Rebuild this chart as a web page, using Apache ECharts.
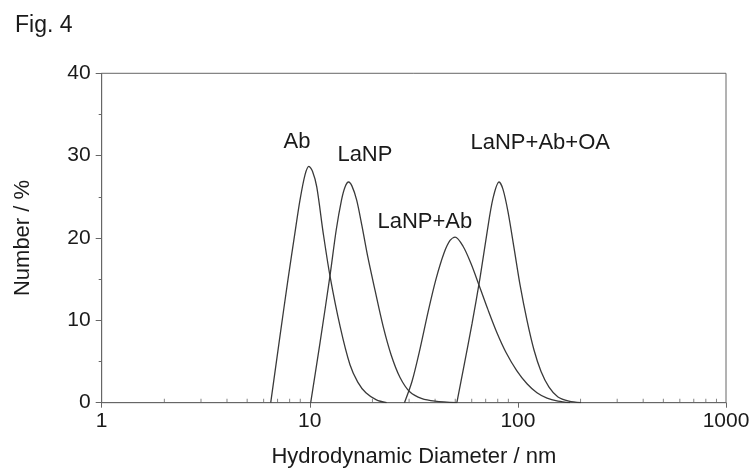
<!DOCTYPE html>
<html>
<head>
<meta charset="utf-8">
<script src="https://cdn.jsdelivr.net/npm/echarts@6/dist/echarts.min.js"></script>
<style>
  html, body { margin: 0; padding: 0; background: #ffffff; }
  #chart { width: 753px; height: 475px; }
</style>
</head>
<body>
<div id="chart"></div>
<script>
// Size distributions (hydrodynamic diameter in nm, number %)
const abSize = [6.49, 7.18, 7.86, 8.48, 8.97, 9.49, 9.9, 10.3, 10.8, 11.6, 12.5, 14.0, 15.6, 17.0, 18.6, 20.9, 23.4];
const abNumber = [0, 8.0, 15.0, 20.6, 24.6, 27.7, 28.7, 28.1, 26.2, 20.6, 15.4, 9.2, 4.6, 2.5, 1.2, 0.35, 0];

const lanpSize = [10.1, 11.2, 12.5, 13.4, 14.2, 14.77, 15.35, 15.95, 16.8, 17.8, 19.0, 20.6, 22.5, 24.6, 27.1, 30.3, 34.6, 40.0, 50.9];
const lanpNumber = [0, 7.3, 15.4, 21.0, 24.6, 26.2, 26.8, 26.3, 24.6, 21.5, 17.7, 13.6, 9.3, 5.8, 3.1, 1.3, 0.5, 0.2, 0];

const lanpAbSize = [28.5, 31.0, 33.9, 37.0, 40.4, 44.2, 47.2, 49.9, 54.5, 59.5, 65.2, 71.8, 79.3, 87.7, 98.7, 110.6, 123.5, 138, 155.8, 178];
const lanpAbNumber = [0, 2.6, 6.6, 11.0, 15.0, 18.2, 19.7, 20.1, 19.0, 16.9, 14.2, 11.3, 8.5, 6.1, 3.9, 2.3, 1.2, 0.55, 0.2, 0];

const lanpAbOaSize = [50.9, 55.1, 60.2, 65.8, 71.0, 75.9, 81.2, 84.8, 89.6, 95.8, 102.4, 110.6, 119.5, 129.2, 141.1, 155.8, 175.8, 200.8];
const lanpAbOaNumber = [0, 4.5, 9.6, 15.2, 20.6, 24.8, 26.8, 25.9, 23.2, 18.8, 14.3, 10.0, 6.4, 3.8, 1.9, 0.7, 0.2, 0];

// Curve names and where each name is written (data coordinates)
const seriesNames = ['Ab', 'LaNP', 'LaNP+Ab', 'LaNP+Ab+OA'];
const labelSize = [8.68, 18.4, 35.7, 128];
const labelNumber = [31.7, 30.1, 21.9, 31.5];

// Minor tick positions on the logarithmic diameter axis
const minorTickValues = [2, 3, 4, 5, 6, 7, 8, 9, 20, 30, 40, 50, 60, 70, 80, 90, 200, 300, 400, 500, 600, 700, 800, 900];

const FONT = 'Liberation Sans, Arial, sans-serif';
const AXIS_COLOR = '#666666';
const CURVE_COLOR = '#3a3a3a';
const TEXT_COLOR = '#1a1a1a';

function pairs(xs, ys) { return xs.map((x, i) => [x, ys[i]]); }

const curves = [
  pairs(abSize, abNumber),
  pairs(lanpSize, lanpNumber),
  pairs(lanpAbSize, lanpAbNumber),
  pairs(lanpAbOaSize, lanpAbOaNumber)
];

const lineSeries = curves.map((data, i) => ({
  name: seriesNames[i],
  type: 'line',
  data: data,
  smooth: 0.3,
  showSymbol: false,
  symbol: 'none',
  z: 3,
  lineStyle: { color: CURVE_COLOR, width: 1.3 },
  markPoint: {
    symbol: 'circle',
    symbolSize: 0,
    silent: true,
    data: [{ coord: [labelSize[i], labelNumber[i]] }],
    label: {
      show: true,
      position: 'inside',
      formatter: seriesNames[i],
      color: TEXT_COLOR,
      fontFamily: FONT,
      fontSize: 22
    }
  }
}));

const chart = echarts.init(document.getElementById('chart'), null, { renderer: 'canvas' });

chart.setOption({
  animation: false,
  backgroundColor: '#ffffff',
  title: {
    text: 'Fig. 4',
    left: 10,
    top: 9,
    textStyle: { fontFamily: FONT, fontSize: 23, fontWeight: 'normal', color: TEXT_COLOR }
  },
  grid: {
    left: 101.7,
    right: 27,
    top: 73.3,
    bottom: 72.3,
    show: true,
    borderColor: AXIS_COLOR,
    borderWidth: 1,
    backgroundColor: 'transparent'
  },
  xAxis: {
    type: 'log',
    logBase: 10,
    min: 1,
    max: 1000,
    name: 'Hydrodynamic Diameter / nm',
    nameLocation: 'middle',
    nameGap: 43,
    nameTextStyle: { fontFamily: FONT, fontSize: 22, color: TEXT_COLOR },
    axisLine: { show: true, lineStyle: { color: AXIS_COLOR, width: 1 } },
    axisTick: { show: true, length: 5, inside: false, lineStyle: { color: AXIS_COLOR } },
    axisLabel: {
      fontFamily: FONT, fontSize: 21, color: TEXT_COLOR, margin: 8,
      formatter: v => String(Math.round(v))
    },
    splitLine: { show: false }
  },
  yAxis: {
    type: 'value',
    min: 0,
    max: 40,
    interval: 10,
    name: 'Number / %',
    nameLocation: 'middle',
    nameGap: 68,
    nameTextStyle: { fontFamily: FONT, fontSize: 22, color: TEXT_COLOR },
    axisLine: { show: true, lineStyle: { color: AXIS_COLOR, width: 1 } },
    axisTick: { show: true, length: 6, inside: false, lineStyle: { color: AXIS_COLOR } },
    minorTick: { show: true, splitNumber: 2, length: 3, lineStyle: { color: AXIS_COLOR } },
    axisLabel: { fontFamily: FONT, fontSize: 21, color: TEXT_COLOR, margin: 11 },
    splitLine: { show: false },
    minorSplitLine: { show: false }
  },
  series: [
    {
      // short inward minor ticks along the diameter axis
      type: 'scatter',
      silent: true,
      z: 2,
      symbol: 'rect',
      symbolSize: [1, 4],
      symbolOffset: [0, -2],
      itemStyle: { color: AXIS_COLOR },
      data: minorTickValues.map(v => [v, 0])
    }
  ].concat(lineSeries)
});
</script>
</body>
</html>
